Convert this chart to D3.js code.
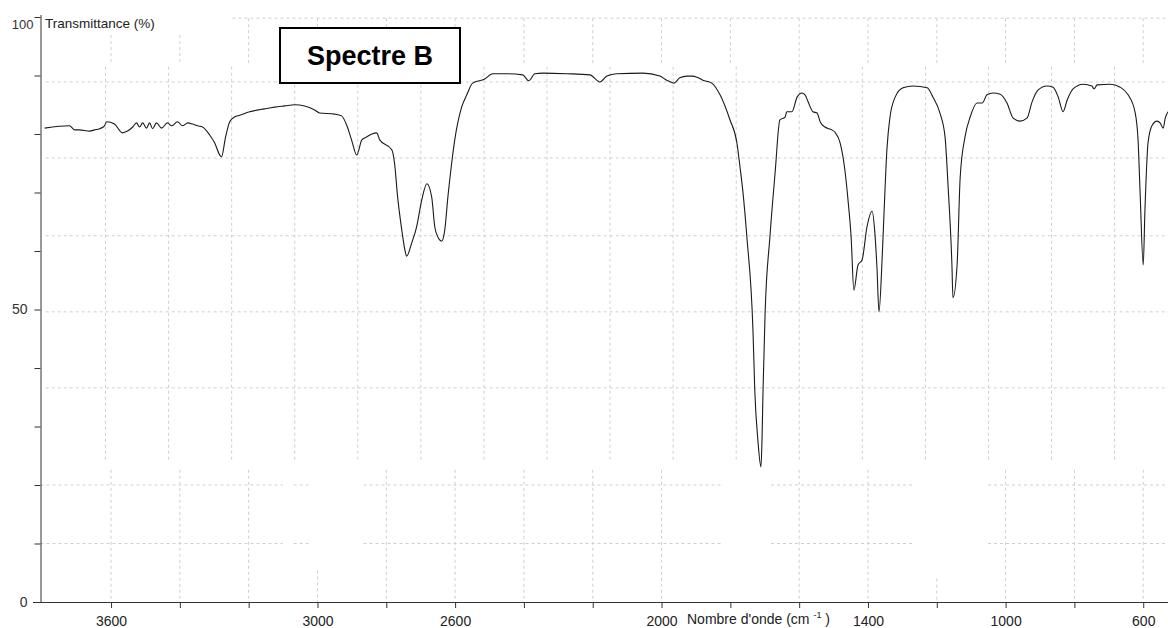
<!DOCTYPE html>
<html>
<head>
<meta charset="utf-8">
<script src="https://cdn.jsdelivr.net/npm/d3@7"></script>
<style>
  body { margin: 0; background: #fff; }
  text { font-family: "Liberation Sans", Arial, sans-serif; }
</style>
</head>
<body>
<svg id="viz" width="1168" height="628"></svg>
<script>
// spectrum (cm-1, %T)
const wavenumbers = [
  3793, 3721, 3705, 3692, 3662, 3648, 3633, 3619, 3613, 3590, 3567, 3552, 3537, 3526, 3517, 3508,
  3497, 3488, 3479, 3468, 3453, 3436, 3424, 3407, 3392, 3377, 3363, 3348, 3334, 3313, 3299, 3284,
  3279, 3267, 3255, 3241, 3226, 3197, 3154, 3124, 3095, 3066, 3037, 3008, 2994, 2950, 2930, 2915,
  2901, 2886, 2871, 2857, 2842, 2828, 2819, 2784, 2776, 2767, 2755, 2746, 2741, 2726, 2712, 2697,
  2682, 2668, 2659, 2650, 2639, 2630, 2621, 2610, 2601, 2581, 2566, 2549, 2514, 2491, 2450, 2403,
  2386, 2368, 2345, 2275, 2208, 2179, 2159, 2130, 2054, 2005, 1985, 1964, 1947, 1926, 1909, 1897,
  1880, 1854, 1830, 1801, 1781, 1772, 1764, 1752, 1734, 1729, 1720, 1711, 1708, 1705, 1699, 1685,
  1670, 1656, 1641, 1636, 1621, 1606, 1592, 1583, 1574, 1560, 1548, 1539, 1525, 1505, 1496, 1481,
  1467, 1458, 1449, 1441, 1429, 1417, 1403, 1388, 1380, 1374, 1368, 1359, 1353, 1345, 1336, 1321,
  1298, 1269, 1228, 1211, 1191, 1176, 1167, 1156, 1153, 1141, 1132, 1118, 1103, 1083, 1068, 1054,
  1036, 1016, 996, 978, 958, 938, 923, 906, 880, 862, 847, 833, 821, 804, 775, 749,
  743, 734, 696, 667, 644, 624, 615, 609, 600, 595, 586, 574, 560, 551, 542, 536,
  528
]
const transmittance = [
  81.0, 81.4, 80.7, 80.7, 80.5, 80.7, 80.9, 81.4, 82.1, 81.7, 80.2, 80.5, 81.2, 81.9, 81.2, 81.9,
  81.0, 81.9, 80.9, 81.9, 81.0, 81.9, 81.4, 82.1, 81.4, 81.9, 81.7, 81.4, 81.2, 79.8, 78.5, 76.4,
  76.1, 79.5, 82.1, 82.9, 83.2, 83.8, 84.3, 84.6, 84.8, 85.0, 84.8, 84.1, 83.6, 83.4, 83.1, 81.5,
  79.0, 76.4, 79.0, 79.5, 80.0, 80.2, 79.0, 77.3, 75.0, 69.2, 63.6, 60.2, 59.1, 61.4, 64.1, 68.7,
  71.5, 69.2, 64.1, 62.4, 61.7, 63.6, 69.2, 75.0, 79.0, 84.6, 86.7, 88.7, 89.4, 90.3, 90.3, 90.1,
  89.1, 90.3, 90.4, 90.3, 90.1, 88.9, 89.9, 90.3, 90.4, 89.9, 89.2, 88.7, 89.6, 89.9, 89.9, 89.7,
  89.2, 88.7, 86.7, 82.4, 78.5, 74.4, 70.4, 62.4, 46.0, 36.2, 27.7, 23.1, 27.7, 36.2, 49.4, 62.4,
  73.3, 82.4, 82.9, 83.8, 83.8, 86.3, 87.0, 86.7, 85.5, 83.8, 83.6, 82.1, 81.2, 80.7, 80.3, 78.5,
  73.8, 68.7, 62.4, 53.3, 57.6, 58.5, 64.1, 66.8, 63.1, 57.3, 49.6, 58.5, 67.0, 77.3, 82.9, 86.3,
  87.9, 88.2, 87.9, 86.3, 83.6, 79.5, 70.9, 57.6, 52.0, 57.6, 72.6, 79.5, 82.9, 85.3, 85.3, 86.7,
  87.0, 86.8, 85.3, 82.7, 82.2, 82.7, 85.5, 87.5, 88.2, 88.0, 86.3, 83.8, 85.8, 87.7, 88.5, 88.2,
  87.7, 88.4, 88.5, 88.0, 86.7, 83.8, 79.0, 69.9, 57.6, 67.0, 78.5, 81.5, 82.2, 81.9, 81.0, 82.7,
  83.8
]
const xTickLabels = [3600, 3000, 2600, 2000, 1400, 1000, 600]
const yTickLabels = [0, 50, 100]

// the grid is a patchwork in the original picture
const midGridX = d3.range(3616, 520, -183.3)
const midGridY = [88.9, 75.9, 62.6, 49.6, 36.6]
const lowGridY = [20, 10]
const lowGridSpans = [[3805, 3101], [3069, 3026], [2866, 1822], [1682, 1266], [1051, 528]]

let svg = d3.select('#viz')

let x = d3.scaleLinear().domain([3805, 528]).range([40.5, 1168])
let y = d3.scaleLinear().domain([0, 100]).range([602, 17])

let grid = svg.append('g')
  .attr('stroke', '#cfcfcf')
  .attr('stroke-width', 1)
  .attr('stroke-dasharray', '3,3')
  .attr('fill', 'none')

// top band
let axisGridX = d3.range(3600, 500, -200)
grid.append('line')
  .attr('x1', x(3247)).attr('x2', x(528))
  .attr('y1', y(99.8)).attr('y2', y(99.8))
grid.selectAll('.topV')
  .data(axisGridX)
  .enter()
  .append('line')
  .attr('x1', d => x(d)).attr('x2', d => x(d))
  .attr('y1', d => d > 3300 ? y(96.9) : y(99.8))
  .attr('y2', y(91.8))

// middle band
grid.selectAll('.midV')
  .data(midGridX)
  .enter()
  .append('line')
  .attr('x1', d => x(d)).attr('x2', d => x(d))
  .attr('y1', y(91.5)).attr('y2', y(23.9))
grid.selectAll('.midH')
  .data(midGridY)
  .enter()
  .append('line')
  .attr('x1', x(3790)).attr('x2', x(528))
  .attr('y1', d => y(d)).attr('y2', d => y(d))

// bottom band
grid.selectAll('.lowV')
  .data(axisGridX.filter(d => d !== 1800))
  .enter()
  .append('line')
  .attr('x1', d => x(d)).attr('x2', d => x(d))
  .attr('y1', d => d === 3000 ? y(5.4) : d === 1200 ? y(4) : y(22.6))
  .attr('y2', y(0))
lowGridY.forEach(t => {
  grid.selectAll('.lowH' + t)
    .data(lowGridSpans)
    .enter()
    .append('line')
    .attr('x1', d => x(d[0])).attr('x2', d => x(d[1]))
    .attr('y1', y(t)).attr('y2', y(t))
})

// axes
let xAxis = svg.append('g')
  .attr('transform', 'translate(0,602)')
  .call(d3.axisBottom(x).tickValues(d3.range(3600, 500, -200)).tickSize(6).tickFormat(d => xTickLabels.includes(d) ? d : ''))
xAxis.select('.domain').attr('stroke', '#333').attr('d', 'M33,0.5H1168')
xAxis.selectAll('.tick line').attr('stroke', '#333')
xAxis.selectAll('.tick text')
  .attr('font-size', 14)
  .attr('fill', '#222')
  .attr('font-family', '"Liberation Sans", Arial, sans-serif')
  .attr('dy', '1.05em')

let yAxis = svg.append('g')
  .attr('transform', 'translate(40.5,0)')
  .call(d3.axisLeft(y).tickValues(d3.range(0, 101, 10)).tickSize(6).tickFormat(d => yTickLabels.includes(d) ? d : ''))
yAxis.select('.domain').attr('stroke', '#333').attr('d', 'M0.5,15V602')
yAxis.selectAll('.tick line').attr('stroke', '#333')
yAxis.selectAll('.tick text')
  .attr('font-size', 14)
  .attr('fill', '#333')
  .attr('font-family', '"DejaVu Sans", Tahoma, sans-serif')
  .attr('x', -13)
yAxis.selectAll('.tick text').filter(d => d === 100)
  .attr('x', -7)
  .attr('font-size', 13)
  .attr('dy', '0.9em')

// spectrum
let line = d3.line()
  .x((d, i) => x(wavenumbers[i]))
  .y((d, i) => y(transmittance[i]))
  .curve(d3.curveMonotoneX)

svg.append('path')
  .datum(transmittance)
  .attr('d', line)
  .attr('fill', 'none')
  .attr('stroke', '#1a1a1a')
  .attr('stroke-width', 1.1)

// labels
svg.append('text')
  .attr('x', 45)
  .attr('y', 28)
  .attr('font-size', 13.5)
  .attr('fill', '#222')
  .text('Transmittance (%)')

let xLabel = svg.append('text')
  .attr('x', 687)
  .attr('y', 624)
  .attr('font-size', 14)
  .attr('fill', '#222')
xLabel.append('tspan').text("Nombre d'onde (cm ")
xLabel.append('tspan').attr('font-size', 9).attr('dy', -6).text('-1')
xLabel.append('tspan').attr('dy', 6).text(' )')

svg.append('rect')
  .attr('x', 280)
  .attr('y', 28)
  .attr('width', 180)
  .attr('height', 55)
  .attr('fill', '#fff')
  .attr('stroke', '#000')
  .attr('stroke-width', 2)

svg.append('text')
  .attr('x', 370)
  .attr('y', 65)
  .attr('text-anchor', 'middle')
  .attr('font-size', 27)
  .attr('font-weight', 'bold')
  .attr('fill', '#000')
  .text('Spectre B')
</script>
</body>
</html>
